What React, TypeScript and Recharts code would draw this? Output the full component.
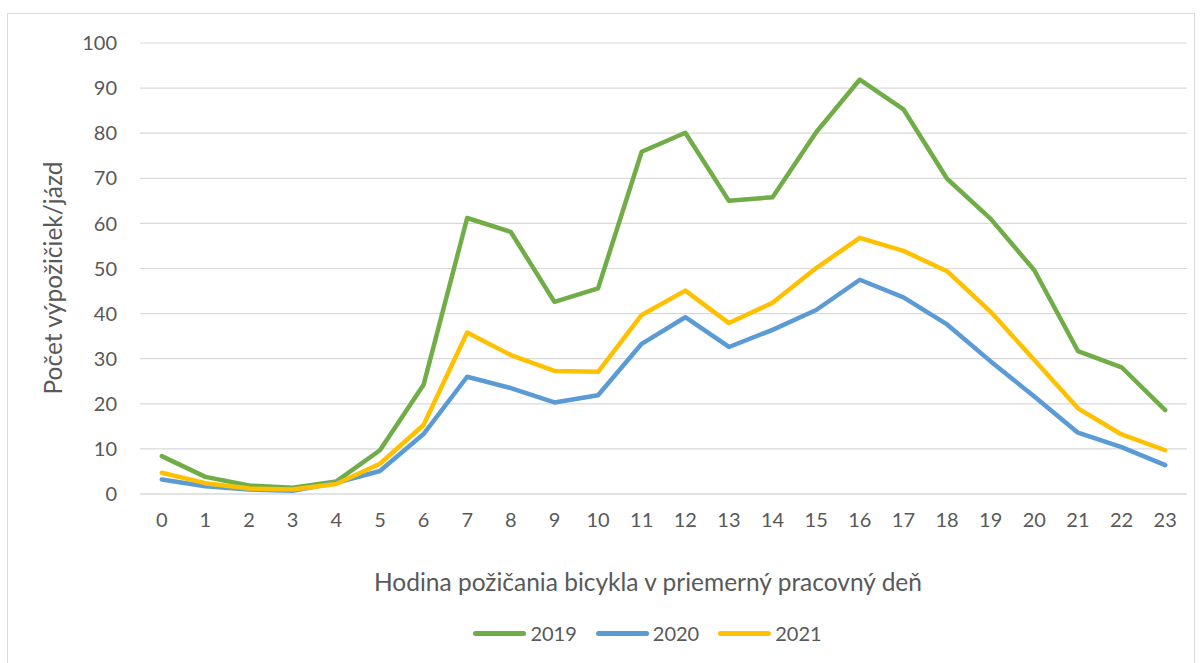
import React from "react";
import { LineChart, Line, XAxis, YAxis, CartesianGrid } from "recharts";

const hours = ["0","1","2","3","4","5","6","7","8","9","10","11","12","13","14","15","16","17","18","19","20","21","22","23"];
const y2019 = [8.4, 3.8, 1.9, 1.4, 2.8, 9.7, 24.2, 61.2, 58.1, 42.6, 45.6, 75.9, 80.1, 65.0, 65.8, 80.2, 91.9, 85.3, 69.9, 61.0, 49.6, 31.7, 28.1, 18.6];
const y2020 = [3.2, 1.7, 1.0, 0.7, 2.5, 5.1, 13.3, 26.0, 23.5, 20.3, 21.9, 33.3, 39.2, 32.6, 36.4, 40.8, 47.5, 43.6, 37.6, 29.4, 21.6, 13.6, 10.4, 6.4];
const y2021 = [4.7, 2.4, 1.2, 1.0, 2.2, 6.7, 15.3, 35.8, 30.8, 27.3, 27.1, 39.7, 45.1, 37.9, 42.4, 50.1, 56.8, 53.9, 49.4, 40.4, 29.7, 19.0, 13.2, 9.7];
const yTicks = [0, 10, 20, 30, 40, 50, 60, 70, 80, 90, 100];
const seriesNames = ["2019", "2020", "2021"];
const seriesColors = ["#70AD47", "#5B9BD5", "#FFC000"];
const yTitle = "Počet výpožičiek/jázd";
const xTitle = "Hodina požičania bicykla v priemerný pracovný deň";

const data = hours.map((h, i) => ({ hour: h, s2019: y2019[i], s2020: y2020[i], s2021: y2021[i] }));
const keys = ["s2019", "s2020", "s2021"];

const FONT = "Lato, 'Open Sans', sans-serif";
const TEXT = "#595959";

export default function App() {
  return (
    <div style={{ position: "absolute", left: 0, top: 0, width: 1203, height: 663, overflow: "hidden", background: "#fff", fontFamily: FONT }}>
      <div style={{ position: "absolute", left: 7, top: 13, width: 1188, height: 700, border: "1.5px solid #d9d9d9", boxSizing: "border-box" }} />
      <div style={{ position: "absolute", left: 0, top: 0 }}>
        <LineChart width={1203} height={663} data={data} margin={{ top: 43, right: 16, bottom: 139, left: 0 }}>
          <CartesianGrid vertical={false} stroke="#d9d9d9" strokeWidth={1.2} />
          <XAxis
            dataKey="hour"
            height={30}
            padding={{ left: 21.8, right: 21.8 }}
            axisLine={{ stroke: "#d9d9d9", strokeWidth: 1.2 }}
            tickLine={false}
            tickSize={0}
            tickMargin={19}
            interval={0}
            tick={{ fill: TEXT, fontSize: 20, fontFamily: FONT }}
          />
          <YAxis
            width={140}
            domain={[0, 100]}
            ticks={yTicks}
            axisLine={false}
            tickLine={false}
            tickSize={0}
            tickMargin={23}
            tick={{ fill: TEXT, fontSize: 20, fontFamily: FONT }}
          />
          {keys.map((k, i) => (
            <Line
              key={k}
              dataKey={k}
              name={seriesNames[i]}
              type="linear"
              stroke={seriesColors[i]}
              strokeWidth={4.5}
              strokeLinejoin="round"
              strokeLinecap="round"
              dot={false}
              activeDot={false}
              isAnimationActive={false}
            />
          ))}
        </LineChart>
      </div>
      <div style={{ position: "absolute", left: 52, top: 278, transform: "translate(-50%, -50%) rotate(-90deg)", whiteSpace: "nowrap", fontSize: 24.5, color: TEXT }}>
        {yTitle}
      </div>
      <div style={{ position: "absolute", left: 648, top: 581, transform: "translate(-50%, -50%)", whiteSpace: "nowrap", fontSize: 24.5, color: TEXT }}>
        {xTitle}
      </div>
      <div style={{ position: "absolute", left: 0, width: 1203, top: 633, transform: "translateY(-50%)", display: "flex", justifyContent: "center", paddingLeft: 92, boxSizing: "border-box" }}>
        {seriesNames.map((n, i) => (
          <div key={n} style={{ display: "flex", alignItems: "center", marginRight: i < 2 ? 19 : 0 }}>
            <div style={{ width: 53, height: 5, borderRadius: 3, background: seriesColors[i], marginRight: 4 }} />
            <span style={{ fontSize: 20, color: TEXT }}>{n}</span>
          </div>
        ))}
      </div>
    </div>
  );
}
